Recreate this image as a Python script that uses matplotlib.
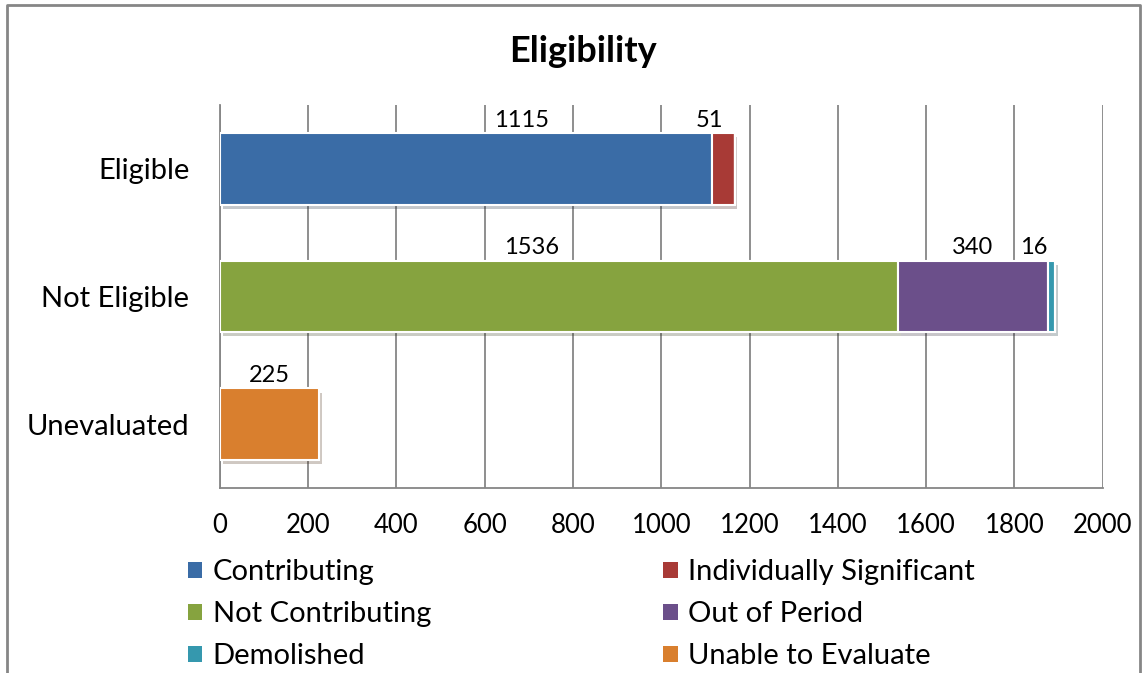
import matplotlib
matplotlib.use('Agg')
import matplotlib.pyplot as plt
import matplotlib.patheffects as pe
from matplotlib.patches import Patch
import numpy as np

plt.rcParams['font.family'] = ['Lato', 'DejaVu Sans']

# categories, bottom to top as drawn
categories = ['Unevaluated', 'Not Eligible', 'Eligible']
series_names = ['Contributing', 'Individually Significant', 'Not Contributing',
                'Out of Period', 'Demolished', 'Unable to Evaluate']
# values per series, in the order of categories above
contributing = [0, 0, 1115]
indiv_significant = [0, 0, 51]
not_contributing = [0, 1536, 0]
out_of_period = [0, 340, 0]
demolished = [0, 16, 0]
unable_to_evaluate = [225, 0, 0]
series_values = [contributing, indiv_significant, not_contributing,
                 out_of_period, demolished, unable_to_evaluate]
colors = ['#3A6CA6', '#A83A36', '#86A33F', '#6B4F8A', '#3598AE', '#D97F2E']
# label shifts (data units) from segment centre, as Excel placed them
label_shift = [[0, 0, 127], [0, 0, -31], [0, -61, 0], [0, 0, 0], [0, -40, 0], [0, 0, 15]]

fig = plt.figure(figsize=(11.45, 6.73), dpi=100)
ax = fig.add_axes([0.192, 0.275, 0.771, 0.569])

y = np.arange(len(categories))
left = np.zeros(len(categories))
for name, vals, col, shifts in zip(series_names, series_values, colors, label_shift):
    vals = np.array(vals, dtype=float)
    ax.barh(y, vals, left=left, height=0.56, color=col, edgecolor='white',
            linewidth=1.5, label=name, zorder=3,
            path_effects=[pe.SimplePatchShadow(offset=(2, -3), alpha=0.25), pe.Normal()])
    for i, v in enumerate(vals):
        if v > 0:
            ax.text(left[i] + v / 2 + shifts[i], y[i] + 0.30, '%d' % v,
                    ha='center', va='bottom', fontsize=17, zorder=4)
    left = left + vals

ax.set_xlim(0, 2000)
ax.set_ylim(-0.5, 2.5)
ax.set_xticks(np.arange(0, 2001, 200))
ax.set_yticks(y)
ax.set_yticklabels(categories, fontsize=21)
ax.tick_params(axis='x', labelsize=18.5, length=0, pad=18)
ax.tick_params(axis='y', length=0, pad=22)
ax.grid(axis='x', color='#868686', linewidth=1.3, zorder=0)
for s in ['top', 'right']:
    ax.spines[s].set_visible(False)
for s in ['left', 'bottom']:
    ax.spines[s].set_color('#868686')
    ax.spines[s].set_linewidth(1.3)

fig.text(0.509, 0.923, 'Eligibility', ha='center', va='center', fontsize=26, fontweight='bold')

# legend: two columns, row-major order in the reference
proxies = [Patch(facecolor=c, edgecolor='none') for c in colors]
leg_kw = dict(loc='upper left', frameon=False, fontsize=21, handlelength=0.5,
              handleheight=0.5, handletextpad=0.35, labelspacing=0.55,
              borderpad=0, borderaxespad=0)
fig.legend(proxies[0::2], series_names[0::2], bbox_to_anchor=(0.164, 0.169), **leg_kw)
fig.legend(proxies[1::2], series_names[1::2], bbox_to_anchor=(0.579, 0.169), **leg_kw)

# outer chart border
fig.add_artist(plt.Line2D([0.006, 0.006, 0.996, 0.996], [0.0, 0.993, 0.993, 0.0],
                          transform=fig.transFigure, color='#868686', linewidth=2))

fig.savefig('out.png', dpi=100)
